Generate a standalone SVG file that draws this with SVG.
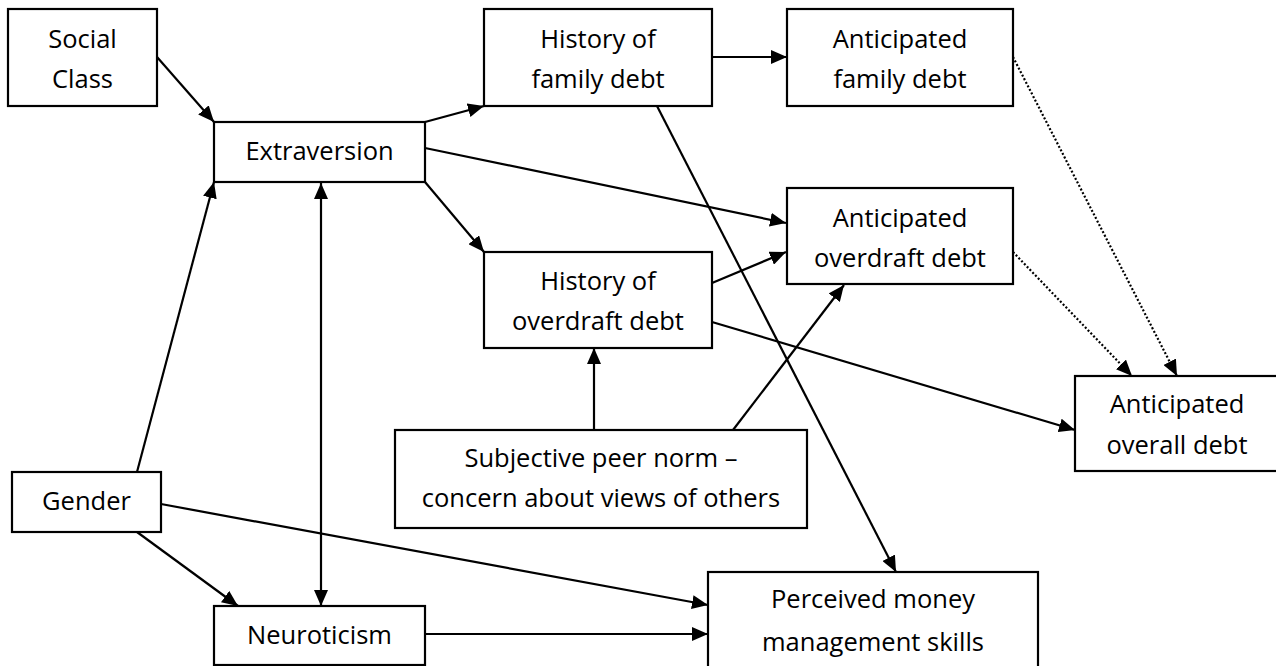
<svg xmlns="http://www.w3.org/2000/svg" width="1276" height="666" viewBox="0 0 1276 666">
<style>
.box{fill:#fff;stroke:#000;stroke-width:2.2}
.t{font-family:"Open Sans","Noto Sans",sans-serif;font-size:25.5px;fill:#000;text-anchor:middle}
.c{stroke:#000;stroke-width:2.2;fill:none;marker-end:url(#ah)}
.d{stroke:#000;stroke-width:2.2;fill:none;stroke-dasharray:2,2;marker-end:url(#ah)}
</style>
<defs>
<marker id="ah" markerUnits="userSpaceOnUse" markerWidth="16" markerHeight="14" refX="16" refY="7" orient="auto-start-reverse" viewBox="0 0 16 14">
<path d="M0,0 L16,7 L0,14 Z" fill="#000"/>
</marker>
</defs>
<rect width="1276" height="666" fill="#fff"/>
<g id="connectors">
<line class="c" x1="157" y1="57" x2="214" y2="122"/>
<line class="c" x1="425" y1="122" x2="484" y2="106"/>
<line class="c" x1="425" y1="148" x2="786" y2="223"/>
<line class="c" x1="425" y1="182" x2="484" y2="252"/>
<line class="c" x1="657" y1="106" x2="896" y2="572"/>
<line class="c" x1="712" y1="57" x2="787" y2="57"/>
<line class="d" x1="1013" y1="57" x2="1177" y2="376"/>
<line class="d" x1="1013" y1="252" x2="1132" y2="376"/>
<line class="c" x1="712" y1="283" x2="786" y2="252"/>
<line class="c" x1="712" y1="322" x2="1075" y2="430"/>
<line class="c" x1="594" y1="430" x2="594" y2="348"/>
<line class="c" x1="733" y1="430" x2="844" y2="285"/>
<line class="c" x1="137" y1="472" x2="214" y2="182"/>
<line class="c" x1="321" y1="183" x2="321" y2="606" marker-start="url(#ah)"/>
<line class="c" x1="137" y1="532" x2="238" y2="606"/>
<line class="c" x1="161" y1="504" x2="708" y2="605"/>
<line class="c" x1="425" y1="634" x2="708" y2="634"/>
</g>
<g id="social-class"><rect class="box" x="8" y="9" width="149" height="97"/><text class="t" x="82.5" y="48">Social</text><text class="t" x="82.5" y="88">Class</text></g>
<g id="extraversion"><rect class="box" x="214" y="122" width="211" height="60"/><text class="t" x="319.5" y="160">Extraversion</text></g>
<g id="history-family"><rect class="box" x="484" y="9" width="228" height="97"/><text class="t" x="598" y="48">History of</text><text class="t" x="598" y="88">family debt</text></g>
<g id="anticipated-family"><rect class="box" x="787" y="9" width="226" height="97"/><text class="t" x="900" y="48">Anticipated</text><text class="t" x="900" y="88">family debt</text></g>
<g id="anticipated-overdraft"><rect class="box" x="787" y="188" width="226" height="96"/><text class="t" x="900" y="227">Anticipated</text><text class="t" x="900" y="267">overdraft debt</text></g>
<g id="history-overdraft"><rect class="box" x="484" y="252" width="228" height="96"/><text class="t" x="598" y="290">History of</text><text class="t" x="598" y="330">overdraft debt</text></g>
<g id="anticipated-overall"><rect class="box" x="1075" y="376" width="203" height="95"/><text class="t" x="1177" y="413">Anticipated</text><text class="t" x="1177" y="454">overall debt</text></g>
<g id="subjective-peer-norm"><rect class="box" x="395" y="430" width="412" height="98"/><text class="t" x="601" y="467">Subjective peer norm –</text><text class="t" x="601" y="507">concern about views of others</text></g>
<g id="gender"><rect class="box" x="12" y="472" width="149" height="60"/><text class="t" x="86.5" y="510">Gender</text></g>
<g id="neuroticism"><rect class="box" x="214" y="606" width="211" height="59"/><text class="t" x="319.5" y="644">Neuroticism</text></g>
<g id="perceived-money"><rect class="box" x="708" y="572" width="330" height="96"/><text class="t" x="873" y="608">Perceived money</text><text class="t" x="873" y="651">management skills</text></g>
</svg>
